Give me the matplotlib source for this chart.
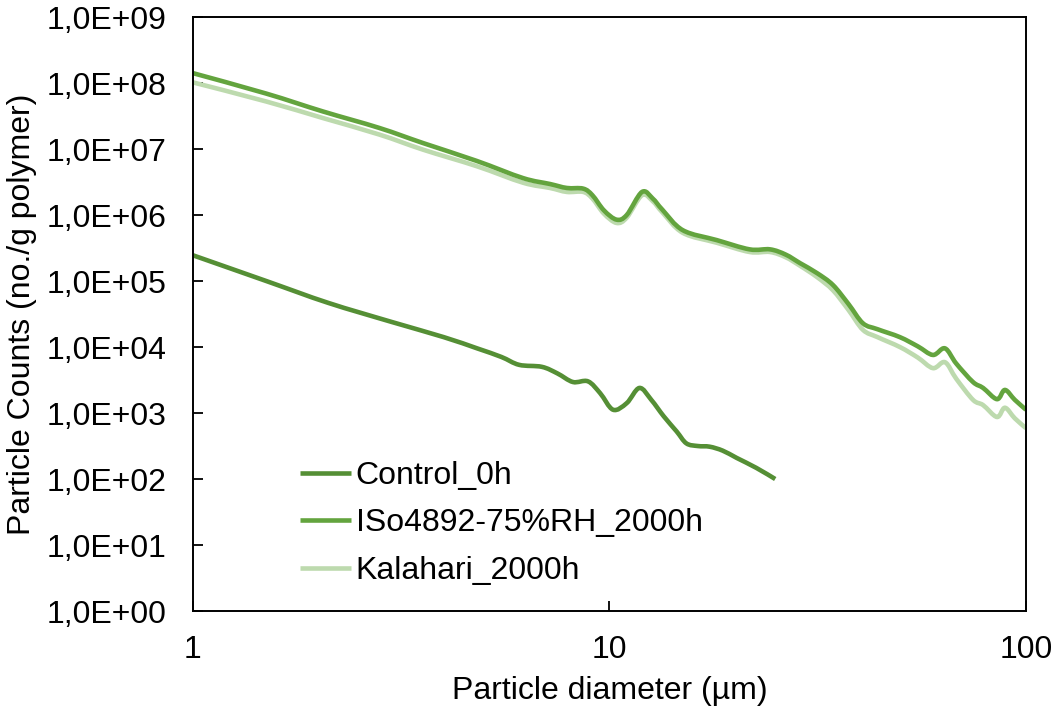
# coding=utf-8
import numpy as np
import matplotlib.pyplot as plt
from matplotlib.path import Path
from matplotlib.patches import PathPatch
from matplotlib.lines import Line2D
from matplotlib.ticker import FixedLocator, FuncFormatter, NullLocator

# particle diameter (um) and log10 of counts per gram, per series
control_d = [1.0, 1.5, 2.11, 3.0, 4.0, 4.81, 5.5, 6.07, 6.88, 7.5, 8.17, 8.88, 9.5,
             10.2, 11.0, 11.8, 12.6, 13.5, 14.5, 15.3, 16.3, 17.4, 18.7, 20.2, 22.5, 25.0]
control_log = [5.39, 5.00, 4.67, 4.38, 4.15, 3.98, 3.85, 3.73, 3.70, 3.60, 3.47, 3.48, 3.30,
               3.05, 3.15, 3.38, 3.20, 2.95, 2.72, 2.54, 2.50, 2.49, 2.43, 2.32, 2.17, 2.00]

iso_d = [1.0, 1.5, 2.05, 2.8, 3.57, 4.8, 6.2, 7.2, 7.9, 8.65, 9.1, 9.7, 10.4, 11.0,
         11.97, 12.7, 13.4, 15.0, 18.1, 21.7, 24.3, 26.5, 28.7, 31.5, 34.4, 37.5, 40.6,
         44.0, 49.8, 55.0, 59.8, 63.9, 68.0, 74.6, 78.9, 85.2, 89.0, 94.0, 100.0]
iso_log = [8.15, 7.84, 7.57, 7.32, 7.09, 6.82, 6.56, 6.47, 6.41, 6.40, 6.30, 6.07, 5.93, 6.00,
           6.35, 6.25, 6.08, 5.77, 5.62, 5.48, 5.48, 5.40, 5.27, 5.12, 4.94, 4.65, 4.36,
           4.27, 4.15, 4.01, 3.88, 3.98, 3.75, 3.47, 3.38, 3.21, 3.35, 3.20, 3.05]

kal_d = iso_d
kal_log = [8.01, 7.72, 7.47, 7.22, 6.99, 6.74, 6.49, 6.41, 6.35, 6.35, 6.25, 6.02, 5.88, 5.96,
           6.30, 6.21, 6.04, 5.73, 5.58, 5.44, 5.44, 5.36, 5.23, 5.06, 4.86, 4.56, 4.26,
           4.15, 4.00, 3.84, 3.68, 3.77, 3.52, 3.20, 3.12, 2.94, 3.08, 2.92, 2.77]

series_names = ["Control_0h", "ISo4892-75%RH_2000h", "Kalahari_2000h"]
colors = ["#558f35", "#63a43e", "#bddaae"]
LW = 3.3
FS = 23


def smooth_path(d, lg):
    # smoothed line (catmull-rom as bezier), built in log-log space
    p = np.column_stack([np.log10(d), np.array(lg, float)])
    ext = np.vstack([p[0], p, p[-1]])
    verts = [p[0]]
    codes = [Path.MOVETO]
    for i in range(len(p) - 1):
        p0, p1, p2, p3 = ext[i], ext[i + 1], ext[i + 2], ext[i + 3]
        verts += [p1 + (p2 - p0) / 6.0, p2 - (p3 - p1) / 6.0, p2]
        codes += [Path.CURVE4] * 3
    return Path(10.0 ** np.array(verts), codes)


plt.rcParams['font.family'] = ['Liberation Sans', 'DejaVu Sans']

fig = plt.figure(figsize=(10.51, 7.10), dpi=100)
ax = fig.add_axes([0.1836, 0.1394, 0.7926, 0.8366])

ax.set_xscale('log')
ax.set_yscale('log')
ax.set_xlim(1, 100)
ax.set_ylim(1, 1e9)

handles = []
order = [0, 2, 1]  # ISO drawn over Kalahari
for z, (d, lg, name, c) in enumerate(zip([control_d, iso_d, kal_d],
                                         [control_log, iso_log, kal_log],
                                         series_names, colors)):
    patch = PathPatch(smooth_path(d, lg), fill=False, edgecolor=c, lw=LW,
                      capstyle='butt', joinstyle='round', zorder=2 + order[z] * 0.1)
    ax.add_patch(patch)
    handles.append(Line2D([], [], color=c, lw=LW, solid_capstyle='butt', label=name))

ax.xaxis.set_major_locator(FixedLocator([1, 10, 100]))
ax.xaxis.set_major_formatter(FuncFormatter(lambda v, p: "%d" % round(v)))
ax.xaxis.set_minor_locator(NullLocator())
ax.yaxis.set_major_locator(FixedLocator([10.0 ** k for k in range(10)]))
ax.yaxis.set_major_formatter(
    FuncFormatter(lambda v, p: "1,0E+%02d" % int(round(np.log10(v)))))
ax.yaxis.set_minor_locator(NullLocator())

ax.tick_params(axis='both', which='major', direction='in', length=7, width=1.3,
               labelsize=FS, color='black')
ax.tick_params(axis='x', pad=17)
ax.tick_params(axis='y', pad=19)
for s in ax.spines.values():
    s.set_linewidth(1.4)

ax.set_xlabel("Particle diameter (µm)", fontsize=FS, labelpad=8)
ax.set_ylabel("Particle Counts (no./g polymer)", fontsize=FS, labelpad=7)

leg = ax.legend(handles=handles, loc='upper left', bbox_to_anchor=(0.2854, 0.351),
                bbox_transform=fig.transFigure, frameon=False, fontsize=FS,
                handlelength=1.6, handletextpad=0.15, labelspacing=0.55, borderaxespad=0,
                borderpad=0)

plt.savefig("out.png", dpi=100)
